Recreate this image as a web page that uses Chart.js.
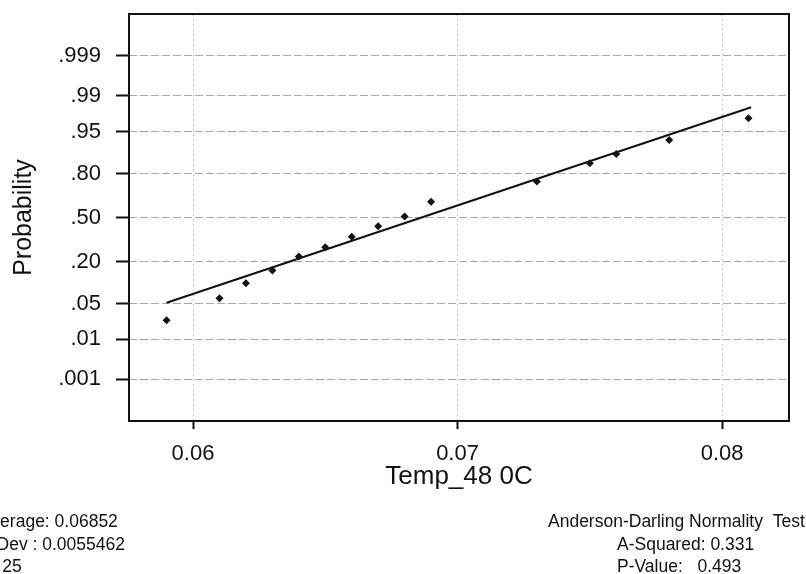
<!DOCTYPE html>
<html>
<head>
<meta charset="utf-8">
<title>Normal Probability Plot</title>
<script src="https://cdn.jsdelivr.net/npm/chart.js@4/dist/chart.umd.min.js"></script>
<style>
  body { margin: 0; background: #fff; }
  #wrap { width: 806px; height: 574px; }
</style>
</head>
<body>
<div id="wrap"><canvas id="probPlot" width="806" height="574"></canvas></div>
<script>
// values
var tempValues = [0.059, 0.061, 0.062, 0.063, 0.064, 0.065, 0.066, 0.067, 0.068, 0.069, 0.073, 0.075, 0.076, 0.078, 0.081];
var probabilities = [0.0248, 0.0614, 0.1046, 0.1555, 0.2279, 0.285, 0.356, 0.434, 0.508, 0.618, 0.754, 0.850, 0.888, 0.931, 0.971];

// fitted line end points
var fitX = [0.059, 0.0811];
var fitProb = [0.0515, 0.9825];

var xTicks = [0.06, 0.07, 0.08];
var yTickProbs = [0.001, 0.01, 0.05, 0.20, 0.50, 0.80, 0.95, 0.99, 0.999];
var yTickLabels = ['.001', '.01', '.05', '.20', '.50', '.80', '.95', '.99', '.999'];

var statsLeft = ['Average: 0.06852', 'StDev : 0.0055462', 'N: 25'];
var statsRight = ['Anderson-Darling Normality  Test', 'A-Squared: 0.331', 'P-Value:   0.493'];

// inverse normal cdf (Acklam), turns probability into z for the probability axis
function probit(p) {
    var a = [-3.969683028665376e+01, 2.209460984245205e+02, -2.759285104469687e+02, 1.383577518672690e+02, -3.066479806614716e+01, 2.506628277459239e+00];
    var b = [-5.447609879822406e+01, 1.615858368580409e+02, -1.556989798598866e+02, 6.680131188771972e+01, -1.328068155288572e+01];
    var c = [-7.784894002430293e-03, -3.223964580411365e-01, -2.400758277161838e+00, -2.549732539343734e+00, 4.374664141464968e+00, 2.938163982698783e+00];
    var d = [7.784695709041462e-03, 3.224671290700398e-01, 2.445134137142996e+00, 3.754408661907416e+00];
    var pLow = 0.02425, q, r;
    if (p < pLow) {
        q = Math.sqrt(-2 * Math.log(p));
        return (((((c[0]*q+c[1])*q+c[2])*q+c[3])*q+c[4])*q+c[5]) / ((((d[0]*q+d[1])*q+d[2])*q+d[3])*q+1);
    }
    if (p <= 1 - pLow) {
        q = p - 0.5; r = q * q;
        return (((((a[0]*r+a[1])*r+a[2])*r+a[3])*r+a[4])*r+a[5])*q / (((((b[0]*r+b[1])*r+b[2])*r+b[3])*r+b[4])*r+1);
    }
    q = Math.sqrt(-2 * Math.log(1 - p));
    return -(((((c[0]*q+c[1])*q+c[2])*q+c[3])*q+c[4])*q+c[5]) / ((((d[0]*q+d[1])*q+d[2])*q+d[3])*q+1);
}

var pointData = tempValues.map(function(x, i) { return { x: x, y: probit(probabilities[i]) }; });
var lineData = fitX.map(function(x, i) { return { x: x, y: probit(fitProb[i]) }; });

var fontFamily = "'Liberation Sans', Arial, sans-serif";

// box round the plot plus the stats text under it
var framePlugin = {
    id: 'frame',
    afterDraw: function(chart) {
        var ctx = chart.ctx, a = chart.chartArea;
        ctx.save();
        ctx.strokeStyle = '#111';
        ctx.lineWidth = 2;
        ctx.strokeRect(a.left, a.top, a.right - a.left, a.bottom - a.top);
        ctx.fillStyle = '#111';
        ctx.font = '17.5px ' + fontFamily;
        ctx.textBaseline = 'alphabetic';
        for (var i = 0; i < statsLeft.length; i++) {
            ctx.fillText(statsLeft[i], -20, 527 + i * 22.5);
        }
        ctx.fillText(statsRight[0], 548, 527);
        ctx.fillText(statsRight[1], 617, 549.5);
        ctx.fillText(statsRight[2], 617, 572);
        ctx.restore();
    }
};

var ctx = document.getElementById('probPlot').getContext('2d');
var chart = new Chart(ctx, {
    type: 'scatter',
    data: {
        datasets: [{
            label: 'Temp_48 0C',
            data: pointData,
            pointStyle: 'rectRot',
            pointRadius: 4,
            backgroundColor: '#111',
            borderColor: '#111',
            borderWidth: 0
        }, {
            type: 'line',
            label: 'Fit',
            data: lineData,
            borderColor: '#111',
            borderWidth: 2,
            pointRadius: 0,
            fill: false
        }]
    },
    options: {
        responsive: false,
        animation: false,
        layout: { padding: { top: 14, right: 17, left: 0, bottom: 82 } },
        plugins: {
            legend: { display: false },
            tooltip: { enabled: false }
        },
        scales: {
            x: {
                type: 'linear',
                min: 0.05758,
                max: 0.08253,
                afterBuildTicks: function(scale) {
                    scale.ticks = xTicks.map(function(v) { return { value: v }; });
                },
                afterFit: function(scale) {
                    scale.height = 71;
                    scale.paddingLeft = 0;
                    scale.paddingRight = 0;
                },
                grid: {
                    color: '#c4c4c4',
                    tickColor: '#111',
                    tickWidth: 2,
                    tickLength: 8,
                    tickBorderDash: []
                },
                border: { display: false, dash: [2, 3] },
                ticks: {
                    color: '#111',
                    padding: 12,
                    font: { family: fontFamily, size: 22 },
                    callback: function(v) { return v.toFixed(2); }
                },
                title: {
                    display: true,
                    text: 'Temp_48 0C',
                    color: '#111',
                    padding: 0,
                    font: { family: fontFamily, size: 26 }
                }
            },
            y: {
                type: 'linear',
                min: -3.89,
                max: 3.89,
                afterBuildTicks: function(scale) {
                    scale.ticks = yTickProbs.map(function(p) { return { value: probit(p) }; });
                },
                afterFit: function(scale) {
                    scale.width = 129;
                    scale.paddingTop = 0;
                    scale.paddingBottom = 0;
                },
                grid: {
                    color: '#a8a8a8',
                    tickColor: '#111',
                    tickWidth: 2,
                    tickLength: 13,
                    tickBorderDash: []
                },
                border: { display: false, dash: [8, 3] },
                ticks: {
                    color: '#111',
                    padding: 15,
                    font: { family: fontFamily, size: 22 },
                    callback: function(v, i) { return yTickLabels[i]; }
                },
                title: {
                    display: true,
                    text: 'Probability',
                    color: '#111',
                    padding: { top: 9, bottom: 0 },
                    font: { family: fontFamily, size: 25 }
                }
            }
        }
    },
    plugins: [framePlugin]
});
</script>
</body>
</html>
